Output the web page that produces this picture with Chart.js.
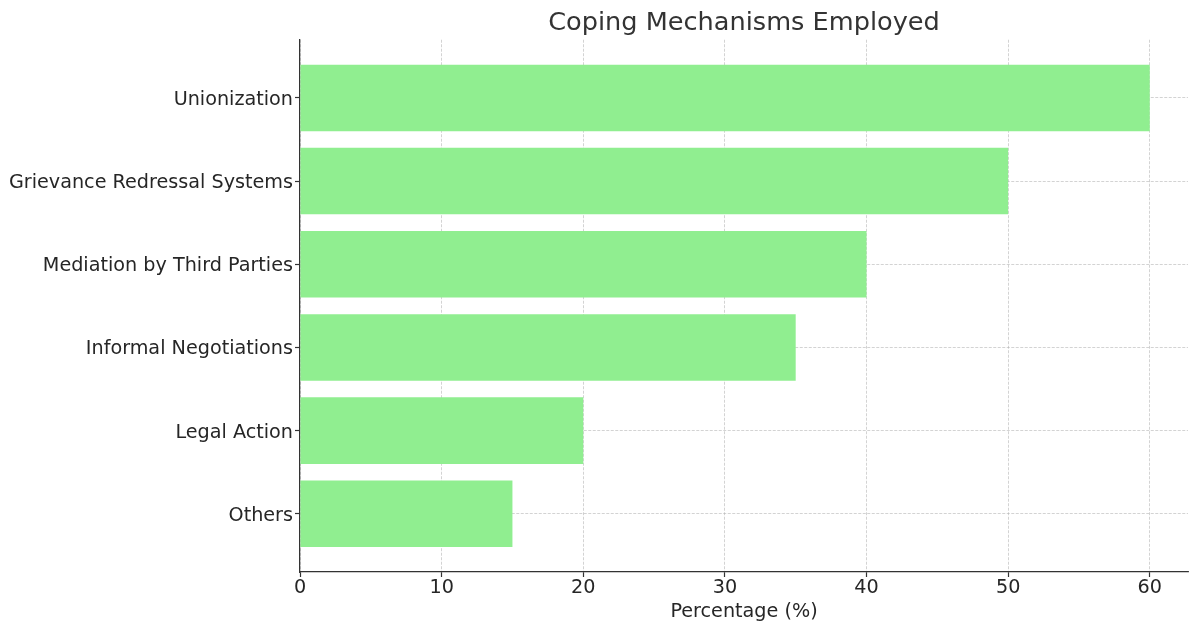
<!DOCTYPE html>
<html lang="en">
<head>
  <meta charset="UTF-8" />
  <title>Coping Mechanisms Employed</title>
  <script src="https://cdn.jsdelivr.net/npm/chart.js"></script>
  <style>
    html, body { margin: 0; padding: 0; background: #fff; }
    canvas { display: block; }
  </style>
</head>
<body>
  <canvas id="chart" width="1189" height="622"></canvas>

  <script>
    // data
    const mechanisms = [
      "Unionization",
      "Grievance Redressal Systems",
      "Mediation by Third Parties",
      "Informal Negotiations",
      "Legal Action",
      "Others"
    ];
    const percentages = [60, 50, 40, 35, 20, 15];
    const xTicks = [0, 10, 20, 30, 40, 50, 60];

    const font = "'DejaVu Sans', sans-serif";
    const gridColor = "rgba(176,176,176,0.7)";
    const axisColor = "#333";

    new Chart(document.getElementById("chart"), {
      type: "bar",
      data: {
        datasets: [{
          data: mechanisms.map((m, i) => ({ x: percentages[i], y: i })),
          backgroundColor: "#90ee90",
          borderWidth: 0,
          barPercentage: 0.8,
          categoryPercentage: 1
        }]
      },
      options: {
        indexAxis: "y",
        responsive: false,
        animation: false,
        layout: { padding: { top: 0, right: 1, bottom: 0, left: 0 } },
        plugins: {
          legend: { display: false },
          tooltip: { enabled: false },
          title: {
            display: true,
            text: "Coping Mechanisms Employed",
            fullSize: false,
            color: "#333",
            font: { family: font, size: 25.6, weight: "normal", lineHeight: 1.2 },
            padding: { top: 8, bottom: 1 }
          }
        },
        scales: {
          x: {
            type: "linear",
            min: 0,
            max: 62.7,
            z: 1,
            afterBuildTicks: s => { s.ticks = xTicks.map(v => ({ value: v })); },
            afterFit: s => { s.height = 50; },
            ticks: {
              includeBounds: false,
              color: "#262626",
              padding: 1,
              font: { family: font, size: 19.2, lineHeight: 1 }
            },
            grid: {
              color: gridColor,
              lineWidth: 0.8,
              drawTicks: true,
              tickLength: 5,
              tickColor: axisColor,
              tickWidth: 1.2
            },
            border: { display: true, color: axisColor, width: 1.25, dash: [3, 1.5] },
            title: {
              display: true,
              text: "Percentage (%)",
              color: "#262626",
              font: { family: font, size: 19.2, lineHeight: 1 },
              padding: { top: 0, bottom: 0 }
            }
          },
          y: {
            type: "linear",
            min: -0.7,
            max: mechanisms.length - 0.3,
            reverse: true,
            offset: false,
            z: 1,
            afterBuildTicks: s => { s.ticks = mechanisms.map((m, i) => ({ value: i })); },
            afterFit: s => { s.width = 300; },
            ticks: {
              color: "#262626",
              padding: 2,
              labelOffset: 2,
              font: { family: font, size: 19.2 },
              callback: v => mechanisms[v] ?? ""
            },
            grid: {
              offset: false,
              color: gridColor,
              lineWidth: 0.8,
              drawTicks: true,
              tickLength: 5,
              tickColor: axisColor,
              tickWidth: 1.2
            },
            border: { display: true, color: axisColor, width: 1.25, dash: [3, 1.5] }
          }
        }
      }
    });
  </script>
</body>
</html>
